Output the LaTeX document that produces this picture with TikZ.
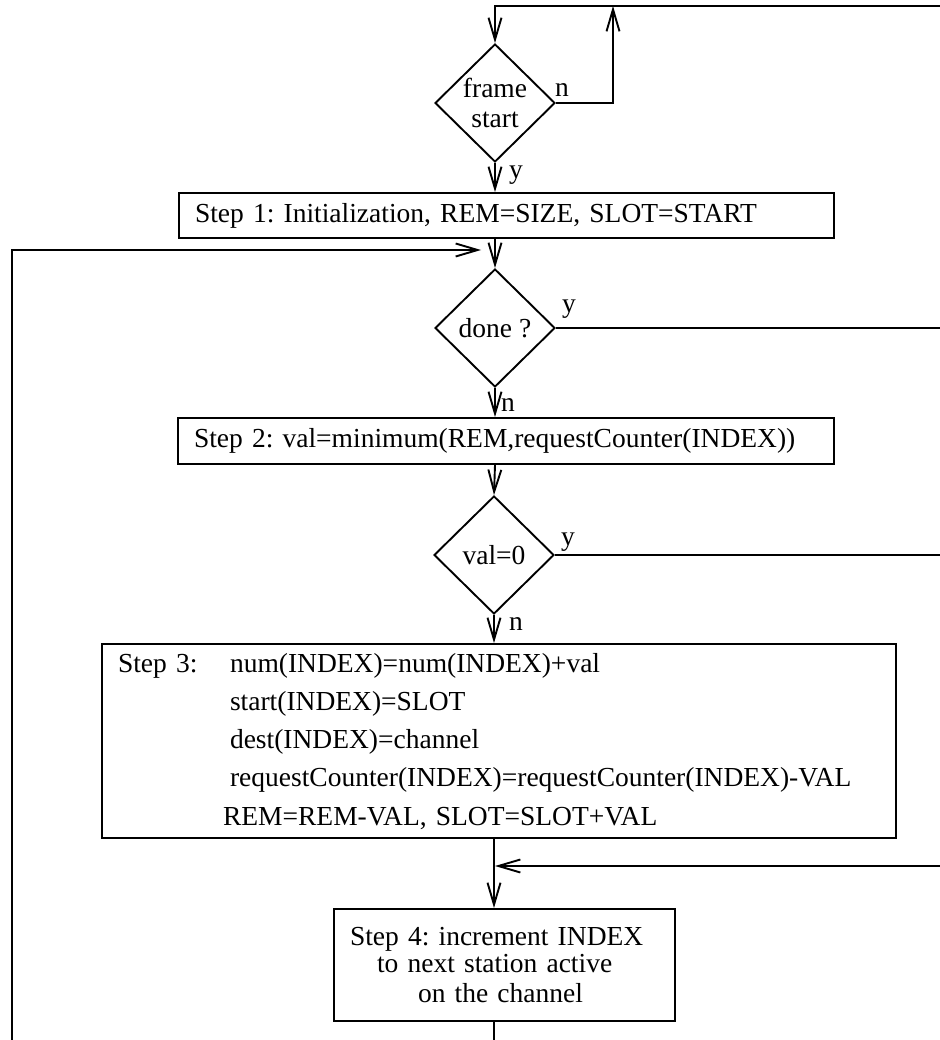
\documentclass[tikz,border=0pt]{standalone}
\usepackage{fontspec}
\setmainfont{Liberation Serif}
\usetikzlibrary{shapes.geometric,arrows.meta}
\frenchspacing
\begin{document}
\begin{tikzpicture}[x=1pt,y=-1pt,line width=1.9pt,
  txt/.style={font=\fontsize{27.5}{30}\selectfont},
  flow/.style={-{Straight Barb[length=22pt,width=13pt]}},
  stepbox/.style={draw,rectangle,txt,inner ysep=0pt,align=left},
  test/.style={draw,diamond,txt,inner sep=0pt,minimum width=120pt,minimum height=118pt,align=center},
  lbl/.style={txt,inner sep=0pt}]
\useasboundingbox (0,0) rectangle (939,1040);

% decision and process nodes
\node[test] (fs) at (495,103) {frame\\start};
\node[stepbox, text width=623pt, inner xsep=16pt, minimum height=45pt] (s1) at (506.5,215.5)
  {Step 1: Initialization, REM=SIZE, SLOT=START};
\node[test] (dn) at (495,328) {done ?};
\node[stepbox, text width=624pt, inner xsep=16pt, minimum height=46pt] (s2) at (506,441)
  {Step 2: val=minimum(REM,requestCounter(INDEX))};
\node[test] (vz) at (494,555) {val=0};
\node[stepbox, text width=762pt, inner xsep=16pt, minimum height=194pt] (s3) at (499,741)
  {\fontsize{27.5}{38.2}\selectfont
   \begin{tabular}{@{}p{112pt}@{}l@{}}
   Step 3: & num(INDEX)=num(INDEX)+val\\
           & start(INDEX)=SLOT\\
           & dest(INDEX)=channel\\
           & requestCounter(INDEX)=requestCounter(INDEX)-VAL\\
           & \hspace*{-7pt}REM=REM-VAL, SLOT=SLOT+VAL
   \end{tabular}};
\node[stepbox, text width=309pt, inner xsep=16pt, minimum height=112pt] (s4) at (504.5,965)
  {\fontsize{27.5}{26.5}\selectfont
   Step 4: increment INDEX\\
   \hspace*{27pt}to next station active\\
   \hspace*{68pt}on the channel};

% branch labels
\node[lbl] (fsn) at (562,90) {n};
\node[lbl] (fsy) at (516,175) {y};
\node[lbl] (dny) at (569,309) {y};
\node[lbl] (dnn) at (508,405) {n};
\node[lbl] (vzy) at (568,542) {y};
\node[lbl] (vzn) at (516,624) {n};

% helper coordinates for the outer loops
\coordinate (topy) at (0,6);
\coordinate (redge) at (946,0);
\coordinate (nx) at (613,0);
\coordinate (lx) at (12,0);
\coordinate (loopy) at (0,250);
\coordinate (bot) at (0,1046);
\coordinate (s4in) at (0,866);

% connectors
\draw[flow] (redge |- topy) -- (fs.north |- topy) -- (fs.north);
\draw[flow] (fs.east) -- (nx |- fs.east) -- (nx |- topy);
\draw[flow] (fs.south) -- (fs.south |- s1.north);
\draw[flow] (fs.south |- s1.south) -- (dn.north);
\draw[flow,shorten >=14pt] (lx |- bot) -- (lx |- loopy) -- (dn.north |- loopy);
\draw (dn.east) -- (redge |- dn.east);
\draw[flow] (dn.south) -- (dn.south |- s2.north);
\draw[flow] (dn.south |- s2.south) -- (vz.north);
\draw (vz.east) -- (redge |- vz.east);
\draw[flow] (vz.south) -- (vz.south |- s3.north);
\draw[flow] (vz.south |- s3.south) -- (vz.south |- s4.north);
\draw[flow,shorten >=1pt] (redge |- s4in) -- (vz.south |- s4in);
\draw (vz.south |- s4.south) -- (vz.south |- bot);
\end{tikzpicture}
\end{document}
